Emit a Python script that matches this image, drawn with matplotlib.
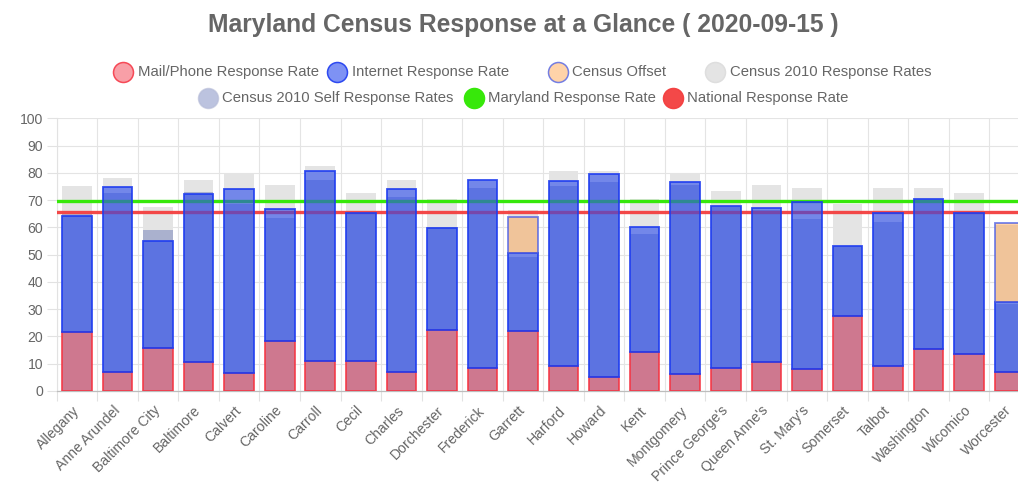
import matplotlib
matplotlib.use("Agg")
import matplotlib.pyplot as plt
from matplotlib.lines import Line2D
import numpy as np

counties = ["Allegany", "Anne Arundel", "Baltimore City", "Baltimore", "Calvert", "Caroline",
            "Carroll", "Cecil", "Charles", "Dorchester", "Frederick", "Garrett", "Harford",
            "Howard", "Kent", "Montgomery", "Prince George's", "Queen Anne's", "St. Mary's",
            "Somerset", "Talbot", "Washington", "Wicomico", "Worcester"]
mail_phone = [21.5, 7.0, 15.6, 10.8, 6.7, 18.5, 11.0, 11.0, 7.1, 22.5, 8.6, 22.1,
              9.3, 5.0, 14.4, 6.2, 8.3, 10.8, 7.9, 27.5, 9.0, 15.3, 13.6, 7.1]
internet = [42.5, 67.7, 39.3, 61.3, 67.3, 48.2, 69.7, 54.3, 66.9, 37.4, 68.9, 28.5,
            67.8, 74.6, 45.6, 70.5, 59.5, 56.3, 61.4, 25.8, 56.3, 55.2, 51.7, 25.4]
census_offset = [0, 0, 0, 0, 0, 0, 0, 0, 0, 0, 0, 13.3,
                 0, 0, 0, 0, 0, 0, 0, 0, 0, 0, 0, 29.0]
census2010 = [75.0, 78.0, 67.5, 77.5, 80.0, 75.5, 82.5, 72.5, 77.5, 70.5, 77.0, 66.5,
              80.5, 80.5, 70.5, 80.0, 73.5, 75.5, 74.5, 68.5, 74.5, 74.5, 72.5, 61.0]
self2010 = [65.0, 72.5, 59.0, 73.0, 68.5, 63.5, 77.5, 65.0, 71.0, 60.0, 74.5, 49.0,
            75.0, 76.5, 57.5, 75.5, 67.5, 66.5, 63.0, 53.0, 62.0, 70.0, 65.0, 32.0]
maryland_rate = 69.8
national_rate = 65.7

legend_labels = ["Mail/Phone Response Rate", "Internet Response Rate", "Census Offset",
                 "Census 2010 Response Rates", "Census 2010 Self Response Rates",
                 "Maryland Response Rate", "National Response Rate"]
title = "Maryland Census Response at a Glance ( 2020-09-15 )"

def rgba(r, g, b, a=1.0):
    return (r / 255, g / 255, b / 255, a)

c_red = rgba(243, 65, 81, 0.5)
e_red = rgba(245, 50, 65, 0.85)
c_blue = rgba(40, 74, 238, 0.6)
e_blue = rgba(30, 60, 240, 0.9)
c_off = rgba(255, 159, 64, 0.45)
e_off = rgba(70, 90, 230, 0.75)
c_gray = rgba(228, 228, 228, 1.0)
c_self = rgba(64, 84, 166, 0.35)
c_md = rgba(55, 232, 10, 1.0)
c_nat = rgba(243, 62, 62, 0.95)
txt = "#666666"

plt.rcParams['font.family'] = ['Liberation Sans', 'DejaVu Sans']
W, H = 1018, 482
fig = plt.figure(figsize=(W / 100, H / 100), dpi=100)
fig.patch.set_facecolor("white")

def fx(x):
    return x / W

def fy(y):
    return 1 - y / H

left_px, right_px, top_px, bot_px = 56.7, 56.7 + 24 * 40.55, 118.3, 391.0
ax = fig.add_axes([fx(left_px), fy(bot_px), (right_px - left_px) / W, (bot_px - top_px) / H])

x = np.arange(len(counties))
bw = 0.73
mail = np.array(mail_phone)
inet = np.array(internet)
off = np.array(census_offset)

ax.bar(x, census2010, width=bw, color=c_gray, linewidth=0, zorder=1)
ax.bar(x, self2010, width=bw, color=c_self, linewidth=0, zorder=2)
ax.axhline(maryland_rate, color=c_md, lw=2.4, zorder=3)
ax.axhline(national_rate, color=c_nat, lw=2.4, zorder=3)
ax.bar(x, mail, width=bw, color=c_red, edgecolor=e_red, linewidth=1.3, zorder=4)
ax.bar(x, inet, bottom=mail, width=bw, color=c_blue, edgecolor=e_blue, linewidth=1.3, zorder=4)
mask = off > 0
ax.bar(x[mask], off[mask], bottom=(mail + inet)[mask], width=bw, color=c_off,
       edgecolor=e_off, linewidth=1.3, zorder=4)

ax.set_xlim(-0.5, len(counties) - 0.5)
ax.set_ylim(0, 100)
ax.set_yticks(np.arange(0, 101, 10))
ax.set_xticks(x)
ax.set_xticks(np.arange(-0.5, len(counties), 1), minor=True)
ax.set_xticklabels(counties, rotation=45, ha='right', va='center', rotation_mode='anchor',
                   fontsize=10.1, color=txt)
for lab in ax.get_yticklabels():
    lab.set_fontsize(10.1)
    lab.set_color(txt)
ax.tick_params(axis='x', which='major', length=0, pad=12.5)
ax.tick_params(axis='x', which='minor', length=7.2, color="#e2e2e2", width=0.8)
ax.tick_params(axis='y', length=7.2, color="#e2e2e2", width=0.8, pad=2.5)
ax.grid(axis='x', which='minor', color="#e4e4e4", lw=0.8, zorder=0)
ax.grid(axis='y', which='major', color="#e4e4e4", lw=0.8, zorder=0)
ax.set_axisbelow(True)
for s in ["top", "right"]:
    ax.spines[s].set_visible(False)
ax.spines["left"].set_color("#e2e2e2")
ax.spines["left"].set_linewidth(0.8)
ax.spines["bottom"].set_color("#bdbdbd")
ax.spines["bottom"].set_linewidth(0.9)

fig.text(fx(523), fy(25), title, ha='center', va='center', fontsize=17.7,
         fontweight='bold', color=txt)

legend_items = [
    (legend_labels[0], 123.3, 72, rgba(243, 65, 81, 0.5), e_red),
    (legend_labels[1], 337.3, 72, rgba(40, 74, 238, 0.6), e_blue),
    (legend_labels[2], 557.7, 72, c_off, e_off),
    (legend_labels[3], 715.0, 72, c_gray, rgba(222, 222, 222)),
    (legend_labels[4], 207.5, 98, c_self, rgba(180, 186, 214, 0.6)),
    (legend_labels[5], 473.5, 98, c_md, c_md),
    (legend_labels[6], 672.5, 98, c_nat, c_nat),
]
for lab, cx, cy, fc, ec in legend_items:
    fig.add_artist(Line2D([fx(cx)], [fy(cy)], marker='o', markersize=14.4,
                          markerfacecolor=fc, markeredgecolor=ec, markeredgewidth=1.1,
                          linestyle='none', transform=fig.transFigure))
    fig.text(fx(cx + 14.5), fy(cy), lab, ha='left', va='center', fontsize=10.75, color=txt)

fig.savefig("out.png", dpi=100)
